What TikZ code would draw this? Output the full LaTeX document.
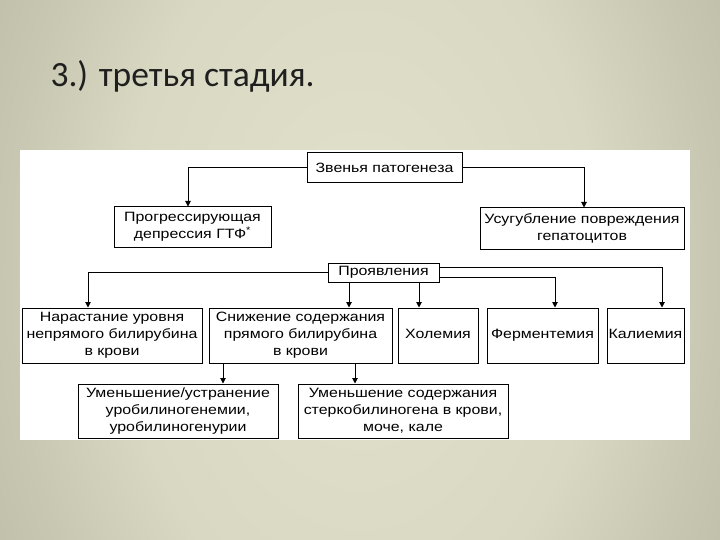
\documentclass[tikz,border=0pt]{standalone}
\usepackage{fontspec}
\usetikzlibrary{arrows.meta}
\newfontfamily\diagfont[FakeStretch=1.18]{Liberation Sans}
\newfontfamily\titlefont{Carlito}
\definecolor{bgA}{HTML}{E2E1CB}
\definecolor{bgB}{HTML}{D9D8C2}
\definecolor{bgC}{HTML}{C8C7B2}
\definecolor{bgD}{HTML}{BCBBA7}
\definecolor{bgE}{HTML}{A6A694}
\definecolor{bgF}{HTML}{969686}
\definecolor{bgG}{HTML}{8C8C7E}
\pgfdeclareradialshading{slidebg}{\pgfpoint{0bp}{0bp}}{color(0bp)=(bgA); color(15bp)=(bgB); color(22bp)=(bgC); color(28bp)=(bgD); color(37bp)=(bgE); color(44bp)=(bgF); color(50bp)=(bgG)}
\begin{document}
\begin{tikzpicture}[x=1pt, y=-1pt, font={\diagfont\fontsize{13.5}{17}\selectfont},
  box/.style={draw, line width=1pt, fill=white, inner sep=0pt, align=center},
  arr/.style={line width=1pt, -{Triangle[width=5.5pt,length=5.5pt]}}]
  % slide background
  \begin{scope}
    \clip (0,0) rectangle (720,540);
    \shade[shading=slidebg] (-40,-330) rectangle (760,870);
  \end{scope}
  \useasboundingbox (0,0) rectangle (720,540);
  \node[anchor=base west, text=black!88, font={\titlefont\fontsize{35.5}{40}\selectfont}] (title) at (47,87) {3.) третья стадия.};
  \fill[white] (20,150) rectangle (690,440);
  % top levels
  \node[box, minimum width=155pt, minimum height=30pt] (zven) at (384.5,168) {Звенья патогенеза};
  \node[box, minimum width=157pt, minimum height=40pt] (prog) at (192.5,227) {Прогрессирующая\\депрессия ГТФ\textsuperscript{*}};
  \node[box, minimum width=204pt, minimum height=41pt] (usug) at (582,228.5) {Усугубление повреждения\\гепатоцитов};
  \node[box, minimum width=111pt, minimum height=19pt] (proy) at (383.5,272.5) {Проявления};
  % manifestations
  \foreach \nm/\cx/\bw/\txt in {
    nar/112/180/{Нарастание уровня\\непрямого билирубина\\в крови},
    sniz/300.5/183/{Снижение содержания\\прямого билирубина\\в крови},
    hol/438/80/{\strut Холемия}, ferm/542.5/111/{\strut Ферментемия}, kal/645.5/77/{\strut Калиемия}}
  {
    \node[box, minimum width=\bw pt, minimum height=55pt] (\nm) at (\cx,335.5) {\txt};
  }
  \node[box, minimum width=200pt, minimum height=54pt] (umen1) at (178,411) {Уменьшение/устранение\\уробилиногенемии,\\уробилиногенурии};
  \node[box, minimum width=210pt, minimum height=54pt] (umen2) at (403,411) {Уменьшение содержания\\стеркобилиногена в крови,\\моче, кале};
  % arrow targets
  \coordinate (tProg) at ([xshift=-4.5pt]prog.north);
  \coordinate (tNar) at ([xshift=-24pt]nar.north);
  \coordinate (tSniz) at ([xshift=48.5pt]sniz.north);
  \coordinate (tHol) at ([xshift=-19pt]hol.north);
  \coordinate (tUm1) at ([xshift=45pt]umen1.north);
  \coordinate (tUm2) at ([xshift=-48pt]umen2.north);
  % connectors
  \draw[arr] (zven.west) -| (tProg);
  \draw[arr] (zven.east) -| ([xshift=2pt]usug.north);
  \draw[arr] (proy.west) -| (tNar);
  \draw[arr] ([yshift=5.5pt]proy.east) -| ([xshift=16.5pt]kal.north);
  \draw[arr] ([yshift=-4.5pt]proy.east) -| ([xshift=12.5pt]ferm.north);
  \draw[arr] (proy.south -| tSniz) -- (tSniz);
  \draw[arr] (proy.south -| tHol) -- (tHol);
  \draw[arr] (sniz.south -| tUm1) -- (tUm1);
  \draw[arr] (sniz.south -| tUm2) -- (tUm2);
\end{tikzpicture}
\end{document}
